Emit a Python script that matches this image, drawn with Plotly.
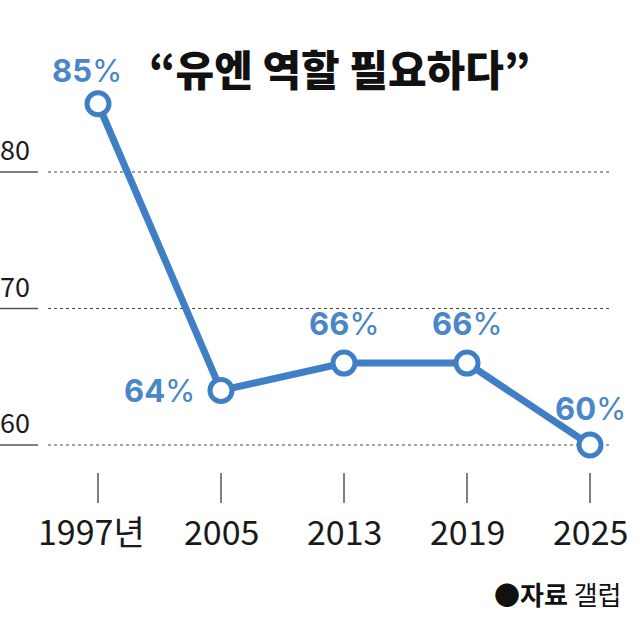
import plotly.graph_objects as go

categories = ["1997년", "2005", "2013", "2019", "2025"]
values = [85, 64, 66, 66, 60]
value_labels = ["85", "64", "66", "66", "60"]
y_ticks = [60, 70, 80]
title_text = "“유엔 역할 필요하다”"

BLUE = "#3f7fc6"
LABEL_BLUE = "#4a86c8"
FONT = "Noto Sans CJK KR"

xs = list(range(len(categories)))

fig = go.Figure()
fig.add_trace(go.Scatter(
    x=xs, y=values, mode="lines+markers",
    line=dict(color=BLUE, width=7),
    marker=dict(size=22, color="white", line=dict(color=BLUE, width=5)),
    hoverinfo="skip", showlegend=False,
))

# gridlines and y tick labels
for t in y_ticks:
    fig.add_shape(type="line", xref="paper", yref="y", x0=48/640, x1=610/640, y0=t, y1=t,
                  line=dict(color="#444", width=1.2, dash="dot"), layer="below")
    fig.add_shape(type="line", xref="paper", yref="y", x0=0, x1=38/640, y0=t, y1=t,
                  line=dict(color="#555", width=1.5), layer="below")
    fig.add_annotation(xref="paper", yref="y", x=0, y=t, text=str(t), showarrow=False,
                       xanchor="left", yanchor="bottom", yshift=2, xshift=-2,
                       font=dict(family=FONT, size=27, color="#1a1a1a"))

# x tick marks and labels
label_shift = [-7, 0, 0, 0, 0]
for i, c in enumerate(categories):
    fig.add_shape(type="line", xref="x", yref="paper", x0=i, x1=i,
                  y0=1 - 473/639, y1=1 - 503/639, line=dict(color="#555", width=1.5))
    fig.add_annotation(xref="x", yref="paper", x=i, y=1 - 530/639, text=c, showarrow=False,
                       xanchor="center", yanchor="middle", xshift=label_shift[i],
                       font=dict(family=FONT, size=34, color="#1a1a1a", weight=400))

# data labels
offsets = [(-11, 33), (-61, 0), (0, 40), (0, 40), (1, 37)]
for i, (v, lab) in enumerate(zip(values, value_labels)):
    dx, dy = offsets[i]
    fig.add_annotation(xref="x", yref="y", x=i, y=v, text="<b>" + lab + "</b>%", showarrow=False,
                       xanchor="center", yanchor="middle", xshift=dx, yshift=dy,
                       font=dict(family="Inter", size=31, color=LABEL_BLUE, weight=400))

# title
fig.add_annotation(xref="paper", yref="paper", x=339/640, y=1 - 68/639, text=title_text,
                   showarrow=False, xanchor="center", yanchor="middle",
                   font=dict(family=FONT, size=42, color="#111", weight=900))

# source
fig.add_annotation(xref="paper", yref="paper", x=624/640, y=1 - 593/639,
                   text="<b>●자료</b> 갤럽", showarrow=False, xanchor="right", yanchor="middle",
                   font=dict(family=FONT, size=26, color="#111"))

fig.update_layout(
    width=640, height=639,
    margin=dict(l=0, r=0, t=0, b=0),
    paper_bgcolor="white", plot_bgcolor="white",
    xaxis=dict(range=[-98/123, (640-98)/123], visible=False, fixedrange=True),
    yaxis=dict(range=[60 - 194/13.65, 60 + 445/13.65], visible=False, fixedrange=True),
)

fig.write_html("out.html")
